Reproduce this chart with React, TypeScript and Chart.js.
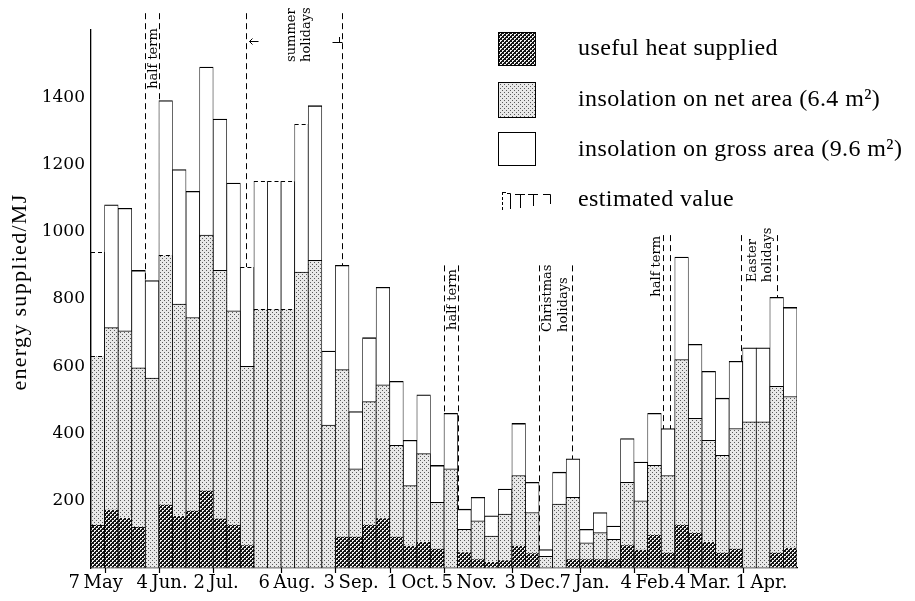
import React, { useEffect, useRef } from 'react';
import { Chart, registerables } from 'chart.js';

Chart.register(...registerables);

// 52 weekly periods, May to April
const weeks: string[] = Array.from({ length: 52 }, (_, i) => `week ${i + 1}`);

// insolation on gross area (9.6 m²), MJ
const gross = [940, 1080, 1070, 885, 855, 1390, 1185, 1120, 1490, 1335, 1145, 895, 1150, 1150, 1150, 1320, 1375, 645, 900, 465, 685, 835, 555, 380, 515, 305, 460, 175, 210, 155, 235, 430, 255, 55, 285, 325, 115, 165, 125, 385, 315, 460, 415, 925, 665, 585, 505, 615, 655, 655, 805, 775];
// insolation on net area (6.4 m²), MJ
const net = [630, 715, 705, 595, 565, 930, 785, 745, 990, 885, 765, 600, 770, 770, 770, 880, 915, 425, 590, 295, 495, 545, 365, 245, 340, 195, 295, 115, 140, 95, 160, 275, 165, 35, 190, 210, 75, 105, 85, 255, 200, 305, 275, 620, 445, 380, 335, 415, 435, 435, 540, 510];
// useful heat supplied, MJ (null = no record)
const useful: (number | null)[] = [128, 173, 149, 122, null, 188, 155, 170, 230, 147, 128, 68, null, null, null, null, null, null, 93, 93, 128, 148, 93, 66, 77, 57, null, 47, 26, 18, 23, 66, 44, null, null, 26, 26, 26, 26, 68, 54, 98, 45, 128, 104, 77, 45, 57, null, null, 45, 60];

// estimated values (drawn with dashed tops)
const estGross = [0, 11, 12, 13, 14, 15];
const estNet = [0, 5, 12, 13, 14];
const estUseful = [0, 3];

// x-axis date ticks (week boundaries) and labels
const tickWeeks = [1, 5, 9, 14, 18, 22, 26, 31, 36, 40, 44, 48];
const tickLabels = ['7\u2009May', '4\u2009Jun.', '2\u2009Jul.', '6\u2009Aug.', '3\u2009Sep.', '1\u2009Oct.', '5\u2009Nov.', '3\u2009Dec.', '7\u2009Jan.', '4\u2009Feb.', '4\u2009Mar.', '1\u2009Apr.'];
// label start offset from its tick (px) — typesetting style
const tickLabelShift = [-37, -23, -20, -23, -12, -4, -3, -8, -21, -14, -14, -8];

// holidays (in week units) and annotation labels
const holidayStart = [4.0, 11.42, 26.0, 33.0, 42.15, 47.9];
const holidayEnd = [5.0, 18.5, 27.05, 35.45, 42.67, 50.55];
const holidayLineTop = [1650, 1650, 900, 900, 990, 990];
const holidayText = [['half term'], ['summer', 'holidays'], ['half term'], ['Christmas', 'holidays'], ['half term'], ['Easter', 'holidays']];
const holidayTextX = [[4.6], [14.8, 15.85], [26.6], [33.6, 34.78], [41.64], [48.7, 49.8]];
const holidayTextBase = [1425, 1505, 708, 702, 807, 850];

const legendLabels = ['useful heat supplied', 'insolation on net area (6.4 m²)', 'insolation on gross area (9.6 m²)', 'estimated value'];

const SERIF = '"DejaVu Serif", serif';
const LEG = '"Liberation Serif", serif';

function makePattern(bg: string, fg: string, pts: number[][], size: number) {
  const c = document.createElement('canvas');
  c.width = size;
  c.height = size;
  const g = c.getContext('2d')!;
  g.fillStyle = bg;
  g.fillRect(0, 0, size, size);
  g.fillStyle = fg;
  pts.forEach(([x, y]) => g.fillRect(x, y, 1, 1));
  return g.createPattern(c, 'repeat')!;
}

export default function App() {
  const ref = useRef<HTMLCanvasElement | null>(null);

  useEffect(() => {
    document.body.style.margin = '0';
    const canvas = ref.current!;
    const darkPat = makePattern('#151515', '#f2f2f2', [[0, 0], [1, 0], [0, 1], [2, 2], [3, 2], [2, 3]], 4);
    const lightPat = makePattern('#e8e8e8', '#5a5a5a', [[0, 0], [2, 2]], 4);

    const bw = (est: number[], topW: number) => (c: any) => {
      const i = c.dataIndex ?? -1;
      return { top: est.includes(i) ? 0 : topW, left: 0.75, right: 0.75, bottom: 0 };
    };

    const dashLine = (ctx: CanvasRenderingContext2D, x1: number, y1: number, x2: number, y2: number, dash: number[]) => {
      ctx.save();
      ctx.setLineDash(dash);
      ctx.beginPath();
      ctx.moveTo(x1, y1);
      ctx.lineTo(x2, y2);
      ctx.stroke();
      ctx.restore();
    };

    // week boundary -> pixel, through the category scale
    const wx = (chart: any, w: number) => chart.scales.x.getPixelForValue(w - 0.5);

    const annot = {
      id: 'annot',
      beforeDatasetsDraw(chart: any) {
        const ctx: CanvasRenderingContext2D = chart.ctx;
        const ys = chart.scales.y;
        ctx.save();
        ctx.strokeStyle = '#000';
        ctx.lineWidth = 1;
        const bottom = chart.chartArea.bottom;
        holidayStart.forEach((s, k) => {
          const top = ys.getPixelForValue(holidayLineTop[k]);
          [s, holidayEnd[k]].forEach((w) => {
            const x = Math.round(wx(chart, w)) + 0.5;
            dashLine(ctx, x, top, x, bottom, [6, 4]);
          });
        });
        ctx.restore();
      },
      afterDatasetsDraw(chart: any) {
        const ctx: CanvasRenderingContext2D = chart.ctx;
        ctx.save();
        ctx.strokeStyle = '#000';
        ctx.lineWidth = 1.2;
        const sets: [number, number[]][] = [[0, estUseful], [1, estNet], [2, estGross]];
        sets.forEach(([di, est]) => {
          const meta = chart.getDatasetMeta(di);
          est.forEach((i) => {
            const el = meta.data[i];
            if (!el) return;
            const p = el.getProps(['x', 'y', 'width'], true);
            const y = Math.round(p.y) + 0.5;
            dashLine(ctx, p.x - p.width / 2, y, p.x + p.width / 2, y, [4, 3]);
          });
        });
        ctx.restore();
      },
      afterDraw(chart: any) {
        const ctx: CanvasRenderingContext2D = chart.ctx;
        const ys = chart.scales.y;
        const bottom = chart.chartArea.bottom;
        ctx.save();
        ctx.fillStyle = '#000';
        ctx.strokeStyle = '#000';

        // x ticks and date labels
        ctx.lineWidth = 1.2;
        ctx.font = `18px ${SERIF}`;
        ctx.textAlign = 'left';
        ctx.textBaseline = 'middle';
        tickWeeks.forEach((w, k) => {
          const x = Math.round(wx(chart, w)) + 0.5;
          ctx.beginPath();
          ctx.moveTo(x, bottom);
          ctx.lineTo(x, bottom + 5);
          ctx.stroke();
          ctx.fillText(tickLabels[k], x + tickLabelShift[k], 583);
        });

        // holiday labels
        ctx.font = `13px ${SERIF}`;
        holidayText.forEach((lines, k) => {
          lines.forEach((t, j) => {
            const x = chart.scales.x.getPixelForValue(holidayTextX[k][j] - 0.5);
            const y = ys.getPixelForValue(holidayTextBase[k]);
            ctx.save();
            ctx.translate(x, y);
            ctx.rotate(-Math.PI / 2);
            ctx.fillText(t, 0, 0);
            ctx.restore();
          });
        });
        // summer arrows
        const xa = Math.round(wx(chart, holidayStart[1])) + 0.5;
        const xb = Math.round(wx(chart, holidayEnd[1])) + 0.5;
        ctx.lineWidth = 1;
        ctx.beginPath();
        ctx.moveTo(xa + 12, 41.5); ctx.lineTo(xa + 3, 41.5);
        ctx.moveTo(xa + 6, 38.5); ctx.lineTo(xa + 3, 41.5); ctx.lineTo(xa + 6, 44.5);
        ctx.moveTo(xb - 10, 42.5); ctx.lineTo(xb, 42.5);
        ctx.moveTo(xb - 3, 37); ctx.lineTo(xb - 3, 43);
        ctx.stroke();

        // y-axis title
        ctx.font = `22px ${LEG}`;
        (ctx as any).letterSpacing = '1.3px';
        ctx.textAlign = 'center';
        ctx.save();
        ctx.translate(20, 292);
        ctx.rotate(-Math.PI / 2);
        ctx.fillText('energy supplied/MJ', 0, 0);
        ctx.restore();

        // legend
        (ctx as any).letterSpacing = '0px';
        const sw = [[498, 32, 37, 33], [498, 82, 37, 35], [498, 132, 37, 33]];
        const fills = [darkPat, lightPat, '#fff'];
        sw.forEach(([x, y, w, h], k) => {
          ctx.fillStyle = fills[k] as any;
          ctx.fillRect(x, y, w, h);
          ctx.strokeStyle = '#000';
          ctx.lineWidth = 1;
          ctx.strokeRect(x + 0.5, y + 0.5, w, h);
        });
        ctx.fillStyle = '#000';
        ctx.font = `24px ${LEG}`;
        (ctx as any).letterSpacing = '0.4px';
        ctx.textAlign = 'left';
        ctx.textBaseline = 'middle';
        [49, 100, 150, 200].forEach((y, k) => ctx.fillText(legendLabels[k], 578, y));
        (ctx as any).letterSpacing = '0px';
        // estimated value icon
        ctx.lineWidth = 1;
        dashLine(ctx, 502.5, 192, 502.5, 212, [3, 2]);
        ctx.beginPath();
        ctx.moveTo(502.5, 192.5); ctx.lineTo(506, 192.5);
        ctx.moveTo(507, 193.5); ctx.lineTo(510.5, 193.5); ctx.lineTo(510.5, 209);
        ctx.moveTo(515, 194.5); ctx.lineTo(525, 194.5); ctx.moveTo(520.5, 194.5); ctx.lineTo(520.5, 208);
        ctx.moveTo(528, 194.5); ctx.lineTo(538, 194.5); ctx.moveTo(533.5, 194.5); ctx.lineTo(533.5, 206);
        ctx.moveTo(543, 194.5); ctx.lineTo(550.5, 194.5); ctx.lineTo(550.5, 204);
        ctx.stroke();
        ctx.restore();
      },
    };

    const common = { grouped: false, barPercentage: 1, categoryPercentage: 1, borderSkipped: false, borderColor: '#000' };

    const chart = new Chart(canvas, {
      type: 'bar',
      data: {
        labels: weeks,
        datasets: [
          { ...common, label: legendLabels[0], data: useful, backgroundColor: darkPat, borderWidth: bw(estUseful, 0) } as any,
          { ...common, label: legendLabels[1], data: net, backgroundColor: lightPat, borderWidth: bw(estNet, 1) } as any,
          { ...common, label: legendLabels[2], data: gross, backgroundColor: '#fff', borderWidth: bw(estGross, 1.3) } as any,
        ],
      },
      options: {
        animation: false,
        responsive: false,
        devicePixelRatio: 1,
        layout: { padding: { top: 30, right: 118, left: 0, bottom: 0 } },
        plugins: { legend: { display: false }, tooltip: { enabled: false } },
        scales: {
          x: {
            type: 'category',
            offset: true,
            afterFit: (s: any) => { s.height = 33; },
            ticks: { display: false },
            grid: { drawOnChartArea: false, drawTicks: false },
            border: { display: true, color: '#000', width: 1.3 },
          },
          y: {
            min: 0,
            max: 1600,
            afterFit: (s: any) => { s.width = 91; },
            ticks: {
              stepSize: 200,
              padding: 6,
              color: '#000',
              font: { family: SERIF, size: 17 },
              callback: (v: any) => (v === 0 || v === 1600 ? '' : String(v)),
            },
            grid: { display: true, drawOnChartArea: false, drawTicks: false },
            border: { display: true, color: '#000', width: 1.3 },
          },
        },
      } as any,
      plugins: [annot],
    });
    return () => chart.destroy();
  }, []);

  return (
    <div style={{ width: 915, height: 601, position: 'relative', background: '#fff' }}>
      <canvas ref={ref} width={915} height={601} style={{ display: 'block' }} />
    </div>
  );
}
